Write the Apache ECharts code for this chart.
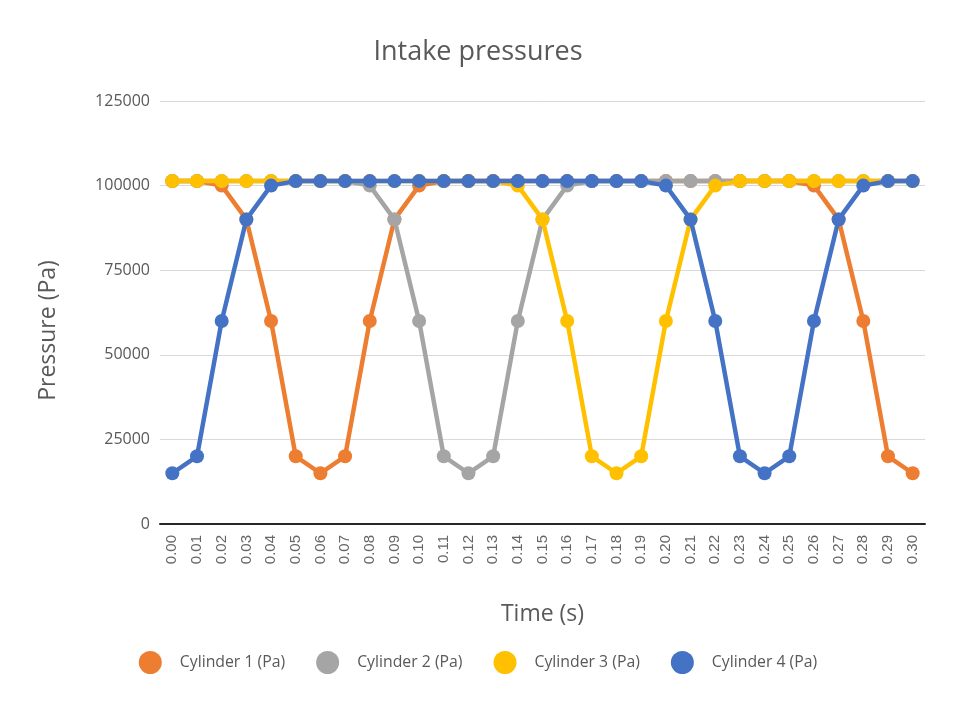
<!DOCTYPE html>
<html>
<head>
<meta charset="utf-8">
<script src="https://cdn.jsdelivr.net/npm/echarts@6/dist/echarts.min.js"></script>
<style>
  html, body { margin: 0; padding: 0; background: #fff; }
  #chart { width: 956px; height: 706px; }
</style>
</head>
<body>
<div id="chart"></div>
<script>
// time steps (s)
var times = ["0.00", "0.01", "0.02", "0.03", "0.04", "0.05", "0.06", "0.07", "0.08", "0.09",
  "0.10", "0.11", "0.12", "0.13", "0.14", "0.15", "0.16", "0.17", "0.18", "0.19",
  "0.20", "0.21", "0.22", "0.23", "0.24", "0.25", "0.26", "0.27", "0.28", "0.29", "0.30"]

var cyl1 = [101325, 101325, 100000, 90000, 60000, 20000, 15000, 20000, 60000, 90000,
  100000, 101325, 101325, 101325, 101325, 101325, 101325, 101325, 101325, 101325,
  101325, 101325, 101325, 101325, 101325, 101325, 100000, 90000, 60000, 20000, 15000]
var cyl2 = [101325, 101325, 101325, 101325, 101325, 101325, 101325, 101325, 100000, 90000,
  60000, 20000, 15000, 20000, 60000, 90000, 100000, 101325, 101325, 101325,
  101325, 101325, 101325, 101325, 101325, 101325, 101325, 101325, 101325, 101325, 101325]
var cyl3 = [101325, 101325, 101325, 101325, 101325, 101325, 101325, 101325, 101325, 101325,
  101325, 101325, 101325, 101325, 100000, 90000, 60000, 20000, 15000, 20000,
  60000, 90000, 100000, 101325, 101325, 101325, 101325, 101325, 101325, 101325, 101325]
var cyl4 = [15000, 20000, 60000, 90000, 100000, 101325, 101325, 101325, 101325, 101325,
  101325, 101325, 101325, 101325, 101325, 101325, 101325, 101325, 101325, 101325,
  100000, 90000, 60000, 20000, 15000, 20000, 60000, 90000, 100000, 101325, 101325]

var names = ["Cylinder 1 (Pa)", "Cylinder 2 (Pa)", "Cylinder 3 (Pa)", "Cylinder 4 (Pa)"]
var colors = ["#ED7D31", "#A5A5A5", "#FFC000", "#4472C4"]
var values = [cyl1, cyl2, cyl3, cyl4]

var font = "'Open Sans', 'Noto Sans', sans-serif"

function makeSeries(i) {
  return {
    name: names[i],
    type: "line",
    data: values[i],
    symbol: "circle",
    symbolSize: 14,
    showAllSymbol: true,
    lineStyle: { width: 4.5, color: colors[i] },
    itemStyle: { color: colors[i] },
    z: 2 + i
  }
}

var chart = echarts.init(document.getElementById("chart"))
chart.setOption({
  backgroundColor: "#FFFFFF",
  animation: false,
  color: colors,
  title: {
    text: "Intake pressures",
    left: "center",
    top: 34,
    textStyle: { fontFamily: font, fontSize: 27, fontWeight: "normal", color: "#595959" }
  },
  legend: {
    data: names,
    left: "center",
    top: 646,
    icon: "circle",
    itemWidth: 23,
    itemHeight: 23,
    itemGap: 31,
    textStyle: { fontFamily: font, fontSize: 15.8, color: "#595959", padding: [0, 0, 0, 13] }
  },
  grid: { left: 160, right: 31, top: 101, bottom: 182 },
  xAxis: {
    type: "category",
    data: times,
    boundaryGap: true,
    name: "Time (s)",
    nameLocation: "middle",
    nameGap: 79,
    nameTextStyle: { fontFamily: font, fontSize: 23, color: "#595959" },
    axisLine: { lineStyle: { color: "#262626", width: 2 } },
    axisTick: { show: false },
    axisLabel: {
      rotate: 90,
      interval: 0,
      margin: 11,
      fontFamily: "'Liberation Sans', Arial, sans-serif",
      fontSize: 15,
      color: "#666666"
    }
  },
  yAxis: {
    type: "value",
    min: 0,
    max: 125000,
    interval: 25000,
    name: "Pressure (Pa)",
    nameLocation: "middle",
    nameGap: 100,
    // shift down so it centres on plot area plus category labels
    nameTextStyle: { fontFamily: font, fontSize: 23, color: "#595959", padding: [0, 36, 0, 0] },
    axisLine: { show: false },
    axisTick: { show: false },
    axisLabel: {
      fontFamily: font,
      fontSize: 16,
      color: "#595959",
      margin: 10,
      formatter: function (v) { return String(v) }
    },
    splitLine: { lineStyle: { color: "#D9D9D9", width: 1 } }
  },
  series: [makeSeries(0), makeSeries(1), makeSeries(2), makeSeries(3)]
})
</script>
</body>
</html>
